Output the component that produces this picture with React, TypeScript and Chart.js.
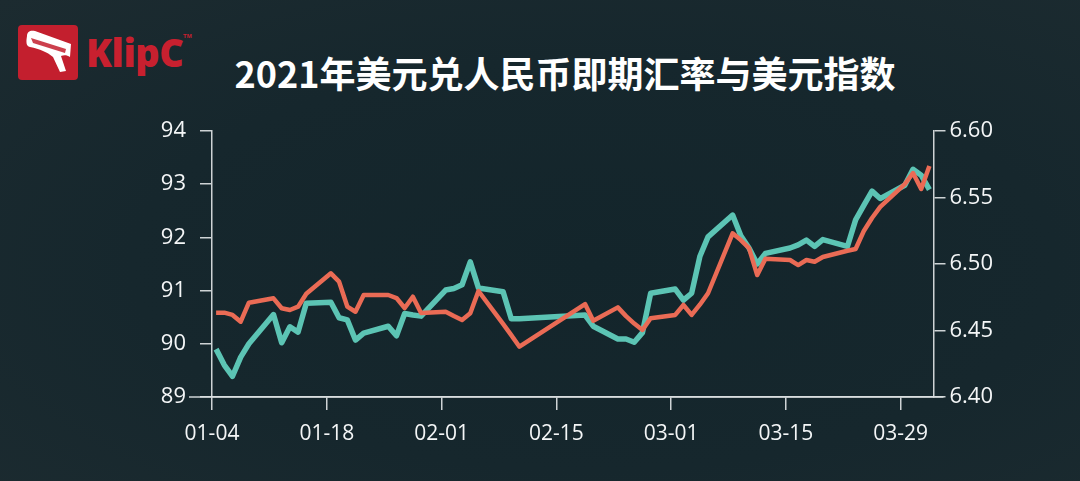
import React, { useEffect, useRef } from "react";
import { Chart, registerables } from "chart.js";

Chart.register(...registerables);

// Trading dates (2021)
const dates: string[] = [
  "2021-01-04", "2021-01-05", "2021-01-06", "2021-01-07", "2021-01-08",
  "2021-01-11", "2021-01-12", "2021-01-13", "2021-01-14", "2021-01-15",
  "2021-01-18", "2021-01-19", "2021-01-20", "2021-01-21", "2021-01-22",
  "2021-01-25", "2021-01-26", "2021-01-27", "2021-01-28", "2021-01-29",
  "2021-02-01", "2021-02-02", "2021-02-03", "2021-02-04", "2021-02-05",
  "2021-02-08", "2021-02-09", "2021-02-10",
  "2021-02-18", "2021-02-19",
  "2021-02-22", "2021-02-23", "2021-02-24", "2021-02-25", "2021-02-26",
  "2021-03-01", "2021-03-02", "2021-03-03", "2021-03-04", "2021-03-05",
  "2021-03-08", "2021-03-09", "2021-03-10", "2021-03-11", "2021-03-12",
  "2021-03-15", "2021-03-16", "2021-03-17", "2021-03-18", "2021-03-19",
  "2021-03-22", "2021-03-23", "2021-03-24", "2021-03-25", "2021-03-26",
  "2021-03-29", "2021-03-30", "2021-03-31", "2021-04-01",
];

// 美元指数 (left axis)
const dollarIndex: number[] = [
  89.90, 89.60, 89.39, 89.75, 90.00,
  90.55, 90.02, 90.32, 90.22, 90.76,
  90.78, 90.49, 90.45, 90.07, 90.20,
  90.33, 90.15, 90.57, 90.54, 90.52,
  91.01, 91.04, 91.11, 91.54, 91.05,
  90.98, 90.47, 90.47,
  90.54, 90.33,
  90.09, 90.09, 90.03, 90.21, 90.95,
  91.03, 90.82, 90.95, 91.64, 92.01,
  92.42, 92.03, 91.80, 91.50, 91.70,
  91.80, 91.86, 91.95, 91.83, 91.96,
  91.83, 92.33, 92.60, 92.87, 92.73,
  92.98, 93.28, 93.17, 92.90,
];

// 美元兑人民币即期汇率 (right axis)
const usdCny: number[] = [
  6.4634, 6.4634, 6.4617, 6.4566, 6.4709,
  6.4742, 6.4667, 6.4654, 6.4679, 6.4776,
  6.4930, 6.4867, 6.4680, 6.4641, 6.4767,
  6.4767, 6.4744, 6.4669, 6.4754, 6.4632,
  6.4641, 6.4609, 6.4579, 6.4629, 6.4797,
  6.4550, 6.4465, 6.4378,
  6.4699, 6.4574,
  6.4674, 6.4608, 6.4552, 6.4504, 6.4592,
  6.4617, 6.4692, 6.4617, 6.4694, 6.4780,
  6.5231, 6.5180, 6.5120, 6.4917, 6.5040,
  6.5030, 6.4992, 6.5030, 6.5017, 6.5053,
  6.5100, 6.5113, 6.5248, 6.5346, 6.5429,
  6.5600, 6.5684, 6.5564, 6.5737,
];

const xTickLabels: string[] = ["01-04", "01-18", "02-01", "02-15", "03-01", "03-15", "03-29"];
const leftTicks: number[] = [89, 90, 91, 92, 93, 94];
const rightTicks: number[] = [6.4, 6.45, 6.5, 6.55, 6.6];

const titleText = "2021年美元兑人民币即期汇率与美元指数";

const BASE = Date.UTC(2021, 0, 4);
const DAY = 86400000;
// day offset from Jan 4 00:00, sampled at noon of each trading day
const dayOf = (iso: string, hour = 12) => {
  const [y, m, d] = iso.split("-").map(Number);
  return (Date.UTC(y, m - 1, d, hour) - BASE) / DAY;
};
const labelToDay = (lbl: string) => dayOf("2021-" + lbl, 0);
const dayToLabel = (v: number) => {
  const dt = new Date(BASE + v * DAY);
  const mm = String(dt.getUTCMonth() + 1).padStart(2, "0");
  const dd = String(dt.getUTCDate()).padStart(2, "0");
  return `${mm}-${dd}`;
};

const AXIS_COLOR = "rgba(222,226,228,0.92)";
const LABEL_COLOR = "#f4f6f7";
const FONT = "'Open Sans', 'Noto Sans', sans-serif";

const bottomLinePlugin = {
  id: "bottomLine",
  afterDraw(chart: any) {
    const { ctx, chartArea } = chart;
    ctx.save();
    ctx.strokeStyle = AXIS_COLOR;
    ctx.lineWidth = 1.5;
    ctx.beginPath();
    ctx.moveTo(chartArea.left - 23, chartArea.bottom);
    ctx.lineTo(chartArea.right + 10, chartArea.bottom);
    ctx.stroke();
    ctx.restore();
  },
};

function Logo() {
  return (
    <svg width="200" height="100" style={{ position: "absolute", left: 0, top: 0 }}>
      <rect x="18" y="25" width="60" height="55" rx="4" fill="#c31f2e" />
      <path
        d="M27 36 C 27 31, 31 30, 35 31 L 71 44 L 70 57 C 67 55, 64 55, 61 56 L 66 71 L 60 72 L 53 57 C 47 52, 40 49, 30 47 C 26 46, 26 42, 27 36 Z"
        fill="#ffffff"
      />
      <path d="M31 38 L 66 49 L 65 53 L 33 43 Z" fill="#c31f2e" opacity="0.85" />
      <text
        x="86"
        y="67"
        fill="#c8202f"
        fontFamily="'Open Sans', sans-serif"
        fontWeight="800"
        fontSize="38"
        letterSpacing="-0.5"
      >
        KlipC
      </text>
      <text x="183" y="38" fill="#c8202f" fontFamily="sans-serif" fontSize="6" fontWeight="700">
        TM
      </text>
    </svg>
  );
}

export default function App() {
  const canvasRef = useRef<HTMLCanvasElement | null>(null);

  useEffect(() => {
    document.body.style.margin = "0";
    const canvas = canvasRef.current;
    if (!canvas) return;

    const cnyPoints = dates.map((d, i) => ({ x: dayOf(d), y: usdCny[i] }));
    const dxyPoints = dates.map((d, i) => ({ x: dayOf(d), y: dollarIndex[i] }));

    const chart = new Chart(canvas, {
      type: "line",
      data: {
        datasets: [
          {
            label: "美元兑人民币即期汇率",
            data: cnyPoints,
            yAxisID: "yRight",
            borderColor: "#ea6b55",
            borderWidth: 4.5,
            pointRadius: 0,
            tension: 0,
            borderJoinStyle: "round",
            borderCapStyle: "butt",
          },
          {
            label: "美元指数",
            data: dxyPoints,
            yAxisID: "yLeft",
            borderColor: "#5cc4b4",
            borderWidth: 5.5,
            pointRadius: 0,
            tension: 0,
            borderJoinStyle: "round",
            borderCapStyle: "butt",
          },
        ],
      },
      options: {
        responsive: false,
        animation: false,
        devicePixelRatio: 1,
        layout: { padding: { top: 131, left: 0, right: 0, bottom: 0 } },
        plugins: {
          legend: { display: false },
          tooltip: { enabled: false },
          title: { display: false },
        },
        scales: {
          x: {
            type: "linear",
            min: 0,
            max: 88,
            afterBuildTicks: (scale: any) => {
              scale.ticks = xTickLabels.map((l) => ({ value: labelToDay(l) }));
            },
            afterFit: (scale: any) => {
              scale.height = 84;
            },
            ticks: {
              callback: (v: any) => dayToLabel(Number(v)),
              color: LABEL_COLOR,
              font: { family: FONT, size: 21 },
              padding: 11,
              maxRotation: 0,
              autoSkip: false,
            },
            grid: {
              drawOnChartArea: false,
              drawTicks: true,
              tickLength: 13,
              color: AXIS_COLOR,
              lineWidth: 1.5,
            },
            border: { display: true, color: AXIS_COLOR, width: 1.5 },
          },
          yLeft: {
            type: "linear",
            position: "left",
            min: 89,
            max: 94,
            afterBuildTicks: (scale: any) => {
              scale.ticks = leftTicks.map((v) => ({ value: v }));
            },
            afterFit: (scale: any) => {
              scale.width = 212;
            },
            ticks: {
              color: LABEL_COLOR,
              font: { family: FONT, size: 22 },
              padding: 14,
              callback: (v: any) => String(v),
            },
            grid: {
              drawOnChartArea: false,
              drawTicks: true,
              tickLength: 12,
              color: AXIS_COLOR,
              lineWidth: 1.5,
            },
            border: { display: true, color: AXIS_COLOR, width: 1.5 },
          },
          yRight: {
            type: "linear",
            position: "right",
            min: 6.4,
            max: 6.6,
            afterBuildTicks: (scale: any) => {
              scale.ticks = rightTicks.map((v) => ({ value: v }));
            },
            afterFit: (scale: any) => {
              scale.width = 146.5;
            },
            ticks: {
              color: LABEL_COLOR,
              font: { family: FONT, size: 22 },
              padding: 4,
              callback: (v: any) => Number(v).toFixed(2),
            },
            grid: {
              drawOnChartArea: false,
              drawTicks: true,
              tickLength: 12,
              color: AXIS_COLOR,
              lineWidth: 1.5,
            },
            border: { display: true, color: AXIS_COLOR, width: 1.5 },
          },
        },
      },
      plugins: [bottomLinePlugin],
    } as any);

    return () => {
      chart.destroy();
    };
  }, []);

  return (
    <div
      style={{
        position: "relative",
        width: 1080,
        height: 481,
        overflow: "hidden",
        background: "radial-gradient(ellipse at 55% 55%, #13252b 0%, #16272d 55%, #1c2b30 100%)",
      }}
    >
      <Logo />
      <div
        style={{
          position: "absolute",
          left: 0,
          top: 50,
          width: 1130,
          textAlign: "center",
          color: "#ffffff",
          fontFamily: "'Noto Sans CJK SC', 'Noto Sans', sans-serif",
          fontWeight: 700,
          fontSize: 36,
          lineHeight: "44px",
          whiteSpace: "nowrap",
        }}
      >
        {titleText}
      </div>
      <canvas
        ref={canvasRef}
        width={1080}
        height={481}
        style={{ position: "absolute", left: 0, top: 0, display: "block" }}
      />
    </div>
  );
}
